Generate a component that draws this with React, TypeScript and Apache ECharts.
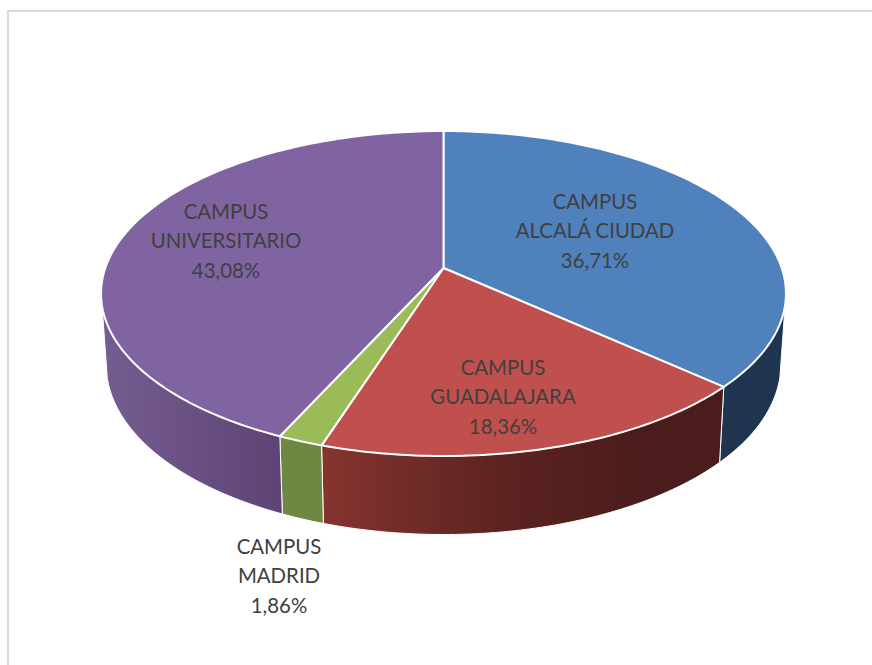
import React, { useEffect, useRef } from "react";
import * as echarts from "echarts";

const categories = ["CAMPUS\nALCALÁ CIUDAD", "CAMPUS\nGUADALAJARA", "CAMPUS\nMADRID", "CAMPUS\nUNIVERSITARIO"];
const values = [36.71, 18.36, 1.86, 43.08];
const topColors = ["#4f81bd", "#c0504d", "#9bbb59", "#8064a2"];
const wallStops = [
  [[0, "#1f344f"], [1, "#1f344f"]],
  [[0, "#86342f"], [0.45, "#5c2321"], [0.8, "#4a1c1b"], [1, "#4a1c1b"]],
  [[0, "#6e8742"], [1, "#6e8742"]],
  [[0, "#755c92"], [1, "#5e4474"]],
];
const labelCenters = [[595, 230], [503, 396], [279, 575], [226, 240]];

// projection of the tilted disc
const CX = 443.5, CY = 268, A = 338.2, B = 158.5, K = -0.157;
const WALL_SCALE = 0.985, WALL_BASE = 69.5, WALL_GROW = 9;
const WALL_FROM = 103, WALL_TO = 257;

const warp = (deg: number) => {
  if (deg <= 132 || deg >= 360) return deg;
  const s = Math.sin(((deg - 132) / 228) * Math.PI);
  return deg - 0.6 * s * s;
};
const topPoint = (deg: number) => {
  const t = (warp(deg) * Math.PI) / 180;
  const u = Math.sin(t), v = -Math.cos(t), w = 1 + K * v;
  return [CX + (A * u) / w, CY + (B * v) / w, v];
};
const bottomPoint = (deg: number) => {
  const [x, y, v] = topPoint(deg);
  return [CX + (x - CX) * WALL_SCALE, y + WALL_BASE + WALL_GROW * v];
};
const arc = (from: number, to: number, fn: (d: number) => number[]) => {
  const n = Math.max(2, Math.ceil(Math.abs(to - from) / 1));
  const pts: number[][] = [];
  for (let i = 0; i <= n; i++) {
    const p = fn(from + ((to - from) * i) / n);
    pts.push([p[0], p[1]]);
  }
  return pts;
};

const total = values.reduce((a, b) => a + b, 0);
const angleStart = (i: number) => (values.slice(0, i).reduce((a, b) => a + b, 0) / total) * 360;

function renderItem(params: any) {
  const i = params.dataIndex;
  const a0 = angleStart(i);
  const a1 = angleStart(i + 1);
  const children: any[] = [];
  const w0 = Math.max(a0, WALL_FROM);
  const w1 = Math.min(a1, WALL_TO);
  if (w1 > w0) {
    const outline = [...arc(w0, w1, topPoint), ...arc(w1, w0, bottomPoint)];
    children.push({
      type: "polygon",
      z2: 1,
      shape: { points: outline },
      style: {
        fill: new echarts.graphic.LinearGradient(0, 0, 1, 0,
          wallStops[i].map(([offset, color]) => ({ offset, color })) as any),
        stroke: "#ffffff",
        lineWidth: 1,
      },
    });
  }
  children.push({
    type: "polygon",
    z2: 2,
    shape: { points: [[CX, CY], ...arc(a0, a1, topPoint)] },
    style: { fill: topColors[i], stroke: "#ffffff", lineWidth: 2, lineJoin: "round" },
  });
  const [lx, ly] = labelCenters[i];
  children.push({
    type: "text",
    z2: 3,
    x: lx,
    y: ly,
    style: {
      text: `${categories[i]}\n${values[i].toFixed(2).replace(".", ",")}%`,
      fill: "#404040",
      font: '20.4px Lato, "Open Sans", sans-serif',
      align: "center",
      verticalAlign: "middle",
      lineHeight: 29.5,
    },
  });
  return { type: "group", children };
}

export default function App() {
  const ref = useRef<HTMLDivElement>(null);
  useEffect(() => {
    const chart = echarts.init(ref.current!, null, { renderer: "svg" });
    chart.setOption({
      animation: false,
      backgroundColor: "#ffffff",
      graphic: [
        { type: "line", shape: { x1: 8, y1: 11, x2: 8, y2: 665 }, style: { stroke: "#d9d9d9", lineWidth: 2 } },
        { type: "line", shape: { x1: 7, y1: 11, x2: 872, y2: 11 }, style: { stroke: "#d9d9d9", lineWidth: 2 } },
      ],
      series: [
        {
          type: "custom",
          coordinateSystem: "none",
          renderItem,
          data: values.map((value, i) => ({ name: categories[i].replace("\n", " "), value })),
        },
      ],
    });
    return () => chart.dispose();
  }, []);
  return <div ref={ref} style={{ position: "absolute", left: 0, top: 0, width: 872, height: 665 }} />;
}
